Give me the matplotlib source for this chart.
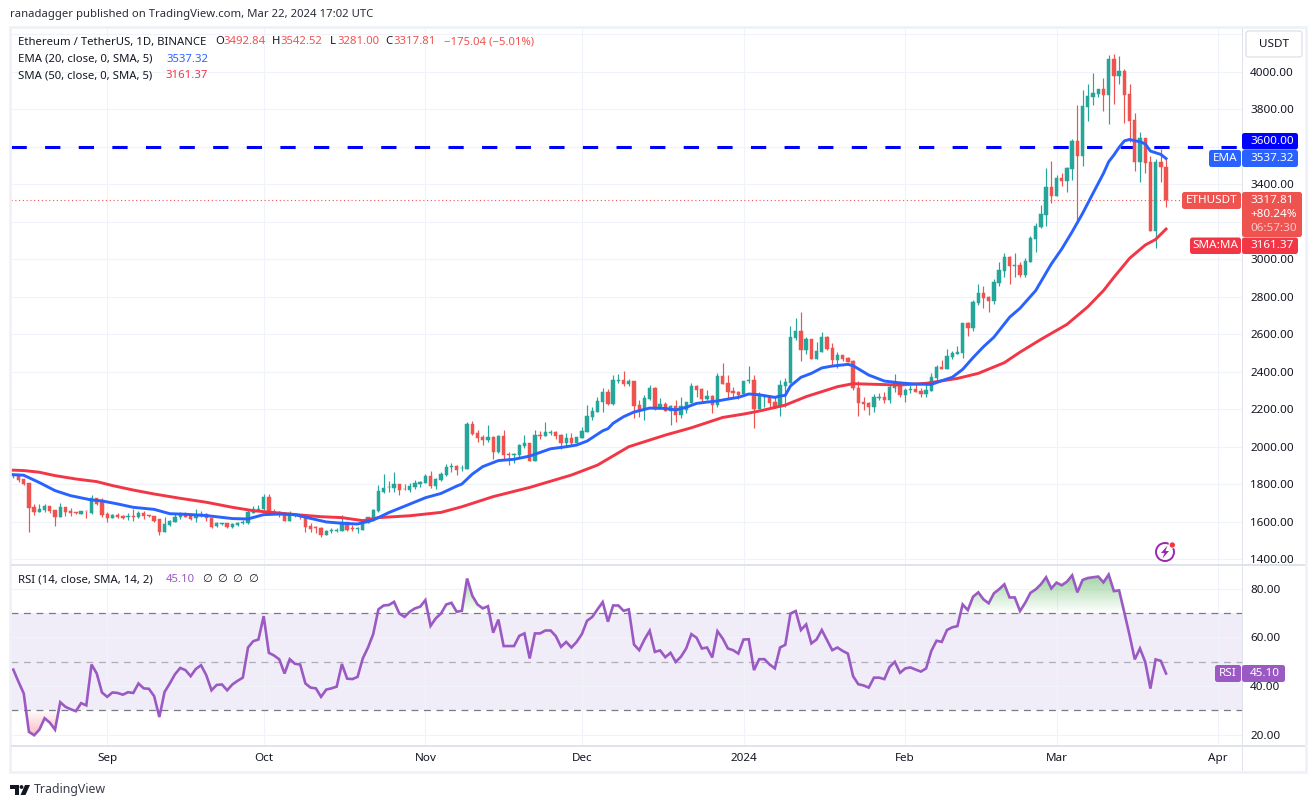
import datetime as dt
import numpy as np
import matplotlib
matplotlib.use("Agg")
import matplotlib.pyplot as plt
import matplotlib.dates as mdates
from matplotlib.patches import Rectangle, FancyBboxPatch, Circle, Polygon
from matplotlib.path import Path
from matplotlib.transforms import IdentityTransform
from matplotlib.colors import to_rgb

plt.rcParams['font.family'] = ['Noto Sans', 'DejaVu Sans']

opens = [
 1845,1845,1827,1806,1678,1655,1664,1685,1664,1628,
 1678,1658,1653,1644,1660,1650,1726,1712,1642,1623,
 1635,1632,1625,1632,1627,1650,1635,1630,1616,1548,
 1584,1602,1625,1642,1632,1619,1632,1642,1619,1580,
 1589,1596,1571,1584,1593,1593,1650,1664,1667,1735,
 1655,1653,1646,1605,1634,1637,1635,1579,1571,1566,
 1531,1550,1554,1554,1600,1566,1561,1559,1596,1622,
 1658,1758,1784,1781,1802,1777,1770,1784,1804,1809,
 1845,1793,1823,1850,1891,1898,1886,1882,2122,2074,
 2054,2037,2054,1971,2058,1962,1957,1955,2005,2021,
 1927,2063,2060,2076,2078,2063,2022,2046,2021,2046,
 2081,2161,2188,2241,2293,2227,2353,2357,2337,2353,
 2223,2197,2255,2314,2213,2229,2193,2218,2172,2197,
 2236,2325,2309,2253,2271,2223,2378,2341,2296,2293,
 2280,2351,2357,2202,2264,2268,2237,2214,2325,2342,
 2582,2618,2517,2575,2469,2508,2588,2525,2463,2490,
 2474,2460,2316,2239,2234,2211,2259,2266,2250,2316,
 2342,2277,2305,2309,2300,2282,2300,2366,2424,2417,
 2481,2497,2499,2659,2634,2765,2818,2799,2778,2874,
 2939,3012,2966,2970,2914,2987,3108,3174,3238,3385,
 3337,3433,3419,3483,3631,3552,3814,3867,3881,3908,
 3878,4068,3977,4004,3881,3742,3520,3647,3519,3153,
 3519,3492.84]
highs = [
 1853,1845,1830,1806,1694,1694,1696,1685,1664,1699,
 1678,1673,1655,1658,1660,1744,1726,1726,1655,1642,
 1646,1637,1646,1667,1660,1660,1637,1634,1616,1625,
 1610,1642,1655,1653,1637,1667,1658,1646,1623,1598,
 1596,1596,1596,1602,1610,1664,1685,1690,1749,1749,
 1667,1660,1653,1660,1646,1642,1642,1593,1579,1571,
 1557,1566,1566,1635,1602,1584,1571,1607,1627,1668,
 1797,1855,1818,1866,1802,1802,1806,1823,1820,1855,
 1870,1832,1866,1909,1914,1903,1903,2134,2140,2090,
 2063,2117,2058,2063,2090,1974,1969,2015,2065,2021,
 2090,2086,2133,2090,2086,2069,2072,2072,2054,2108,
 2223,2214,2268,2312,2309,2383,2389,2405,2360,2353,
 2250,2277,2330,2317,2262,2241,2223,2250,2268,2241,
 2339,2330,2312,2303,2277,2392,2445,2383,2321,2300,
 2351,2431,2383,2291,2271,2275,2268,2357,2365,2645,
 2685,2721,2588,2575,2561,2614,2591,2552,2508,2490,
 2477,2463,2351,2264,2237,2282,2285,2294,2330,2389,
 2353,2312,2330,2339,2312,2333,2392,2436,2463,2520,
 2511,2538,2662,2667,2783,2868,2858,2806,2893,2987,
 3032,3017,3032,2987,3005,3124,3192,3289,3485,3524,
 3449,3458,3494,3641,3822,3902,3934,3995,3910,3968,
 4089,4094,4084,4013,3934,3778,3677,3647,3551,3533,
 3588,3542.52]
lows = [
 1836,1815,1797,1548,1637,1655,1655,1650,1580,1628,
 1632,1634,1644,1644,1623,1642,1690,1628,1602,1621,
 1619,1616,1610,1605,1623,1618,1628,1602,1531,1545,
 1579,1598,1616,1625,1610,1602,1625,1607,1566,1575,
 1584,1568,1566,1579,1589,1589,1648,1660,1664,1637,
 1642,1625,1605,1605,1628,1618,1548,1548,1543,1522,
 1531,1543,1548,1554,1554,1554,1543,1557,1592,1619,
 1654,1756,1760,1761,1743,1770,1760,1774,1784,1806,
 1781,1777,1820,1845,1868,1850,1873,1882,2063,2028,
 2010,2028,1935,1969,1934,1903,1916,1944,1992,1927,
 1927,2040,2058,2063,2040,1987,2001,2010,2019,2046,
 2081,2143,2188,2188,2223,2223,2339,2326,2325,2156,
 2161,2143,2250,2197,2206,2191,2117,2134,2152,2179,
 2232,2268,2246,2250,2179,2214,2333,2259,2268,2255,
 2277,2342,2102,2202,2214,2214,2206,2165,2214,2342,
 2570,2460,2495,2469,2469,2504,2516,2437,2419,2458,
 2451,2303,2165,2197,2170,2188,2250,2232,2232,2294,
 2264,2241,2285,2294,2268,2264,2300,2357,2413,2417,
 2467,2495,2472,2591,2619,2756,2742,2721,2762,2859,
 2904,2870,2907,2907,2907,2987,3041,3165,3179,3302,
 3337,3392,3360,3423,3192,3497,3739,3822,3867,3792,
 3721,3828,3934,3725,3627,3472,3414,3458,3153,3058,
 3414,3281.00]
closes = [
 1852,1824,1804,1676,1655,1669,1685,1658,1628,1678,
 1655,1648,1646,1658,1657,1726,1696,1637,1621,1637,
 1628,1623,1630,1628,1650,1632,1630,1605,1548,1589,
 1605,1628,1642,1628,1616,1637,1642,1619,1575,1593,
 1593,1573,1589,1596,1598,1655,1667,1669,1735,1642,
 1646,1642,1605,1646,1637,1625,1571,1561,1566,1531,
 1552,1555,1557,1602,1557,1561,1568,1596,1625,1663,
 1765,1781,1788,1802,1770,1774,1793,1806,1813,1845,
 1791,1829,1855,1893,1896,1877,1889,2122,2069,2047,
 2037,2051,1974,2060,1957,1957,1962,2010,2019,1927,
 2063,2060,2078,2081,2058,2022,2046,2022,2051,2085,
 2165,2191,2245,2293,2227,2357,2357,2333,2349,2220,
 2191,2261,2314,2200,2229,2193,2218,2172,2218,2237,
 2325,2305,2257,2269,2223,2378,2337,2294,2289,2277,
 2351,2357,2202,2277,2268,2232,2215,2330,2344,2588,
 2618,2517,2575,2469,2511,2588,2522,2463,2490,2469,
 2454,2312,2236,2229,2214,2268,2264,2248,2321,2344,
 2277,2303,2309,2294,2282,2303,2371,2424,2415,2485,
 2499,2504,2662,2635,2770,2818,2795,2779,2879,2943,
 3010,2966,2968,2916,2991,3112,3177,3241,3385,3339,
 3433,3417,3487,3631,3552,3817,3870,3886,3906,3878,
 4068,3977,4004,3876,3737,3520,3647,3515,3153,3519,
 3493,3317.81]

ema_days = [-1,0,2,5,8,11,15,17,20,23,27,30,33,37,42,45,48,51,54,57,60,63,66,69,72,76,79,82,85,86,88,90,93,96,99,
            103,106,108,110,113,114,115,117,119,122,125,127,129,131,133,135,137,139,141,143,146,147,148,149,151,153,
            155,157,160,161,164,167,170,173,176,178,180,182,184,186,188,191,193,196,199,201,203,205,207,209,210,211,
            212,213,214,215,216,217,218,219,220,221]
ema_vals = [1856,1852,1849,1810,1767,1740,1717,1712,1696,1678,1667,1644,1641,1634,1618,1616,1639,1642,1639,1619,1600,
            1593,1589,1610,1650,1695,1729,1752,1791,1802,1855,1895,1927,1934,1951,
            1990,2001,2010,2031,2086,2097,2126,2161,2186,2207,2205,2197,2211,2232,2239,2245,2255,2264,2282,2278,2264,
            2271,2275,2325,2371,2392,2421,2431,2440,2433,2383,2351,2341,2335,2333,2353,2371,2413,2476,2534,2585,2691,
            2739,2833,2975,3055,3147,3245,3352,3458,3520,3556,3597,3631,3639,3632,3627,3615,3577,3568,3559,3537.32]

sma_days = [-1,2,5,8,12,16,19,23,27,32,37,42,46,50,55,59,63,67,70,76,82,86,92,99,107,112,118,125,130,136,140,143,148,
            152,158,161,166,170,175,181,185,190,193,197,199,202,206,209,211,214,217,219,221]
sma_vals = [1877,1874,1865,1847,1829,1815,1794,1770,1749,1726,1705,1678,1660,1650,1637,1628,1623,1607,1623,1633,1651,
            1681,1735,1784,1850,1903,2001,2063,2102,2157,2175,2191,2223,
            2268,2321,2337,2333,2330,2339,2365,2392,2449,2505,2573,2605,2653,2747,2833,2904,3005,3076,3106,3161.37]

rsi_vals = [
 46.7,41.7,36.9,21.1,19.7,22.0,26.7,24.9,22.0,33.3,
 31.4,30.4,29.6,32.9,32.0,48.8,45.1,37.3,35.5,37.3,
 37.1,36.4,37.4,37.1,41.0,39.0,38.8,35.8,27.2,37.5,
 41.0,44.8,47.4,46.5,44.0,47.0,48.5,44.4,38.2,40.4,
 40.6,38.2,40.6,42.1,43.4,55.8,58.4,59.1,68.7,53.6,
 52.5,50.9,45.1,51.0,49.1,48.8,41.0,39.3,39.0,35.5,
 38.5,39.0,39.7,49.0,43.0,42.8,43.7,51.3,55.8,61.3,
 71.5,73.1,73.3,74.6,69.8,68.4,70.5,71.9,72.6,75.3,
 64.7,67.8,69.8,73.5,74.2,70.5,70.9,84.2,77.1,73.5,
 71.9,72.8,61.9,67.3,56.4,56.4,56.4,60.6,61.6,51.3,
 61.6,61.6,62.8,62.8,60.5,56.1,58.1,55.8,58.1,61.3,
 66.8,68.4,71.5,74.5,66.4,73.1,73.1,70.9,71.5,57.0,
 54.7,59.1,62.7,54.0,54.6,51.8,53.6,49.9,52.0,55.4,
 61.3,59.8,55.4,55.8,51.7,62.5,59.5,55.4,54.7,53.3,
 59.1,59.2,46.5,51.0,51.0,48.8,47.2,55.8,56.9,69.8,
 70.8,63.0,65.3,57.5,59.1,63.0,58.8,54.7,55.8,54.4,
 53.3,44.0,40.7,40.2,39.3,43.4,43.4,42.8,47.8,49.9,
 45.4,47.2,47.6,46.7,45.9,47.2,54.4,58.6,58.1,63.0,
 64.1,64.6,73.5,71.2,76.7,78.5,75.6,74.0,78.1,79.8,
 81.8,76.4,76.4,70.8,74.2,78.3,79.7,81.8,84.7,80.1,
 82.5,81.4,82.9,85.5,78.5,83.6,84.4,84.7,85.0,82.6,
 85.8,79.0,79.3,70.2,60.9,50.9,55.4,49.9,38.9,50.9,
 50.3,45.10]

price_ticks = [1400,1600,1800,2000,2200,2400,2600,2800,3000,3200,3400,3600,3800,4000,4200]
price_labels = ['1400.00','1600.00','1800.00','2000.00','2200.00','2400.00','2600.00','2800.00',
                '3000.00','','3400.00','','3800.00','4000.00','']
rsi_ticks = [20,40,60,80]
month_dates = [dt.date(2023,9,1),dt.date(2023,10,1),dt.date(2023,11,1),dt.date(2023,12,1),
               dt.date(2024,1,1),dt.date(2024,2,1),dt.date(2024,3,1),dt.date(2024,4,1)]
month_labels = ['Sep','Oct','Nov','Dec','2024','Feb','Mar','Apr']
level = 3600.0
last_close = 3317.81

W, H = 1316, 808
GREEN, RED = '#26a69a', '#ef5350'
BLUE, SMA_RED = '#2962ff', '#f23645'
PURPLE = '#9b59c3'
GRID = '#f0f3fa'
SEP = '#e0e3eb'
INK = '#131722'
LEG = 8.15

fig = plt.figure(figsize=(W/100, H/100), dpi=100, facecolor='white')

def axes_px(x0, y0, x1, y1):
    return fig.add_axes([x0/W, 1-y1/H, (x1-x0)/W, (y1-y0)/H])

def T(x, y, s, color=INK, size=8.4, ha='left', va='center', **kw):
    return fig.text(x/W, 1-y/H, s, color=color, fontsize=size, ha=ha, va=va, zorder=30, **kw)

def box(x0, y0, x1, y1, color, rounded=False, ec='none', lw=0, z=20, fc=None):
    fc = color if fc is None else fc
    if rounded:
        p = FancyBboxPatch((x0+2, H-y1+2), x1-x0-4, y1-y0-4, boxstyle='round,pad=2,rounding_size=2.5',
                           fc=fc, ec=ec, lw=lw, transform=IdentityTransform(), zorder=z)
    else:
        p = Rectangle((x0, H-y1), x1-x0, y1-y0, fc=fc, ec=ec, lw=lw, transform=IdentityTransform(), zorder=z)
    fig.add_artist(p)
    return p

base = mdates.date2num(dt.date(2023,8,14))
xs = base + np.arange(len(closes))
xlim = (base-0.44, base+235.56)
o, h, l, c = map(np.array, (opens, highs, lows, closes))
colors = np.where(c >= o, GREEN, RED)

# price pane
ax = axes_px(11, 28, 1242, 565)
ax.set_xlim(*xlim)
ax.set_ylim(1370.5, 4233)
ax.set_yticks(price_ticks, price_labels)
ax.yaxis.tick_right()
ax.set_xticks(mdates.date2num(month_dates), [])
ax.grid(True, color=GRID, lw=0.8, zorder=0)
ax.set_axisbelow(True)
ax.tick_params(axis='both', length=0)
ax.tick_params(axis='y', pad=5.8, labelsize=8.4, labelcolor=INK)
for s in ax.spines.values():
    s.set_visible(False)
ax.axhline(last_close, color=RED, lw=0.8, ls=(0,(1,2.4)), zorder=1)
ax.axhline(level, color='#0000ff', lw=2.2, ls=(0,(5,6)), dash_capstyle='butt', zorder=1.5)
ax.vlines(xs, l, h, colors=colors, lw=0.85, zorder=2)
ax.bar(xs, np.abs(c-o), bottom=np.minimum(o,c), width=0.64, color=colors, edgecolor=colors, linewidth=0.35, zorder=2.5)
ax.plot(base+np.array(sma_days), sma_vals, color=SMA_RED, lw=2.1, zorder=3, solid_joinstyle='round')
ax.plot(base+np.array(ema_days), ema_vals, color=BLUE, lw=2.1, zorder=3.2, solid_joinstyle='round')

# RSI pane
ax2 = axes_px(11, 565, 1242, 745.7)
ax2.set_xlim(*xlim)
ax2.set_ylim(15.4, 89.75)
ax2.set_yticks(rsi_ticks, ['%.2f' % v for v in rsi_ticks])
ax2.yaxis.tick_right()
ax2.set_xticks(mdates.date2num(month_dates), month_labels)
ax2.grid(True, color=GRID, lw=0.8, zorder=0)
ax2.set_axisbelow(True)
ax2.tick_params(axis='both', length=0)
ax2.tick_params(axis='y', pad=5.8, labelsize=8.4, labelcolor=INK)
ax2.tick_params(axis='x', pad=5.5, labelsize=8.4, labelcolor=INK)
for lab in ax2.get_xticklabels():
    if lab.get_text() == '2024':
        lab.set_fontweight('bold')
for s in ax2.spines.values():
    s.set_visible(False)
ax2.axhspan(30, 70, color='#673ab7', alpha=0.09, lw=0, zorder=0.5)
ax2.axhline(70, color='#787b86', lw=0.9, ls=(0,(5.5,4.5)), zorder=1)
ax2.axhline(30, color='#787b86', lw=0.9, ls=(0,(5.5,4.5)), zorder=1)
ax2.axhline(50, color='#787b86', lw=0.9, alpha=0.55, ls=(0,(5.5,4.5)), zorder=1)
rsi = np.array(rsi_vals)
rx = xs

def gradient(y0, y1, hexcol, a_at_y0, a_at_y1, where):
    poly = ax2.fill_between(rx, (y0 if a_at_y0 == 0 else y1), rsi, where=where, interpolate=True, color='none', lw=0)
    clip = Path.make_compound_path(*poly.get_paths())
    ramp = np.zeros((128, 1, 4))
    ramp[..., :3] = to_rgb(hexcol)
    ramp[:, 0, 3] = np.linspace(a_at_y0, a_at_y1, 128)
    im = ax2.imshow(ramp, extent=[xlim[0], xlim[1], y0, y1], origin='lower', aspect='auto', zorder=1.2)
    im.set_clip_path(clip, transform=ax2.transData)

gradient(70, 86, '#4caf50', 0.0, 0.55, rsi >= 70)
gradient(18, 30, '#f23645', 0.38, 0.0, rsi <= 30)
ax2.set_xlim(*xlim)
ax2.set_ylim(15.4, 89.75)
ax2.plot(rx, rsi, color=PURPLE, lw=1.9, zorder=3, solid_joinstyle='miter')

# frame and separators
box(10, 27, 1305.5, 771.5, 'none', ec='#eef1f7', lw=2, z=10, fc='none')
box(11, 564.4, 1305, 565.8, SEP, z=11)
box(11, 745.2, 1305, 746.6, SEP, z=11)
box(1241.6, 28, 1243, 771, SEP, z=11)

# header
T(10, 15, 'ranadagger published on TradingView.com, Mar 22, 2024 17:02 UTC', size=LEG, color='#2a2e39')
T(18, 42, 'Ethereum / TetherUS, 1D, BINANCE', size=LEG)
T(215, 42, 'O', size=LEG)
T(223, 42, '%.2f' % opens[-1], color=RED, size=LEG)
T(272, 42, 'H', size=LEG)
T(280, 42, '%.2f' % highs[-1], color=RED, size=LEG)
T(330, 42, 'L', size=LEG)
T(337, 42, '%.2f' % lows[-1], color=RED, size=LEG)
T(385, 42, 'C', size=LEG)
T(393, 42, '%.2f' % closes[-1], color=RED, size=LEG)
T(444, 42, '\u2212175.04 (\u22125.01%)', color=RED, size=LEG)
T(18, 59, 'EMA (20, close, 0, SMA, 5)', size=LEG)
T(166, 59, '%.2f' % ema_vals[-1], color=BLUE, size=LEG)
T(18, 76, 'SMA (50, close, 0, SMA, 5)', size=LEG)
T(165, 76, '%.2f' % sma_vals[-1], color=SMA_RED, size=LEG)
T(18, 580, 'RSI (14, close, SMA, 14, 2)', size=LEG)
T(166, 580, '%.2f' % rsi_vals[-1], color=PURPLE, size=LEG)
for px_ in (207, 222, 237, 253):
    T(px_, 580, '\u2205', size=LEG, ha='center')

# right scale furniture
box(1246, 31, 1302, 57, 'white', rounded=True, ec='#e0e3eb', lw=1, z=12)
T(1274, 44.5, 'USDT', ha='center')
box(1242, 133, 1298, 149.5, '#0000ff', rounded=True)
T(1250, 141.5, '3600.00', color='white')
box(1209, 150, 1241, 167, BLUE, rounded=True)
T(1225, 158.5, 'EMA', color='white', ha='center')
box(1242, 150, 1298, 167, BLUE, rounded=True)
T(1250, 158.5, '%.2f' % ema_vals[-1], color='white')
box(1182, 192, 1241, 209, RED, rounded=True)
T(1211.5, 200.5, 'ETHUSDT', color='white', ha='center')
box(1242, 192, 1302, 237, RED, rounded=True)
T(1250, 200.5, '%.2f' % closes[-1], color='white')
T(1250, 214.5, '+80.24%', color='white')
T(1250, 229, '06:57:30', color='#f9c9c8')
box(1190, 237.5, 1241, 254, SMA_RED, rounded=True)
T(1215.5, 246, 'SMA:MA', color='white', ha='center')
box(1242, 237.5, 1298, 254, SMA_RED, rounded=True)
T(1250, 246, '%.2f' % sma_vals[-1], color='white')
box(1215, 665, 1241, 682, PURPLE, rounded=True)
T(1228, 673.5, 'RSI', color='white', ha='center')
box(1242, 665, 1285, 682, PURPLE, rounded=True)
T(1250, 673.5, '%.2f' % rsi_vals[-1], color='white')

# lightning badge
tr = IdentityTransform()
fig.add_artist(Circle((1165, H-552), 9, fc='white', ec='#9c27b0', lw=1.4, transform=tr, zorder=25))
fig.add_artist(Polygon([(1167.5, H-545.5), (1161, H-553), (1164.5, H-553), (1162.5, H-558.5),
                        (1169, H-551), (1165.5, H-551)], closed=True, fc='#9c27b0', ec='none', transform=tr, zorder=26))
fig.add_artist(Circle((1172, H-545), 3.6, fc='white', ec='none', transform=tr, zorder=26))
fig.add_artist(Circle((1172.3, H-545), 2.7, fc=SMA_RED, ec='none', transform=tr, zorder=27))

# footer mark
fig.add_artist(Polygon([(10, H-785), (19, H-785), (19, H-795), (15, H-795), (15, H-789), (10, H-789)],
                       closed=True, fc='#131722', ec='none', transform=tr, zorder=26))
fig.add_artist(Circle((21.5, H-787), 1.9, fc='#131722', ec='none', transform=tr, zorder=26))
fig.add_artist(Polygon([(25, H-785), (30, H-785), (25.5, H-795), (20.5, H-795)], closed=True,
                       fc='#131722', ec='none', transform=tr, zorder=26))
T(33.5, 790, 'TradingView', size=8.9, color='#3a3e49')

fig.savefig('out.png', dpi=100, facecolor='white')
